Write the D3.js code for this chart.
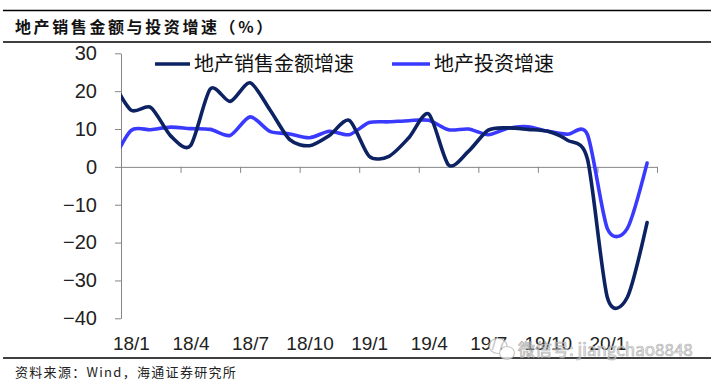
<!DOCTYPE html>
<html>
<head>
<meta charset="utf-8">
<script src="https://cdn.jsdelivr.net/npm/d3@7/dist/d3.min.js"></script>
<style>
    body { margin: 0; background: #fff; }
    svg { display: block; }
</style>
</head>
<body>
<svg id="chart"></svg>
<script>
// values (monthly, Jan & Feb share the Jan-Feb figure)
const months = ["17/12",
    "18/1", "18/2", "18/3", "18/4", "18/5", "18/6", "18/7", "18/8", "18/9", "18/10", "18/11", "18/12",
    "19/1", "19/2", "19/3", "19/4", "19/5", "19/6", "19/7", "19/8", "19/9", "19/10", "19/11", "19/12",
    "20/1", "20/2", "20/3"];
const sales = [23.5,
    15.0, 15.7, 8.2, 5.6, 20.6, 17.3, 22.2, 15.1, 7.2, 5.6, 8.3, 12.3,
    2.8, 2.8, 7.7, 14.0, 0.5, 4.1, 9.7, 10.3, 9.9, 9.4, 7.0, 2.0,
    -34.5, -34.5, -14.7];
const invest = [0.5,
    9.6, 9.8, 10.5, 10.1, 9.9, 8.3, 13.2, 9.4, 8.7, 7.7, 9.4, 8.5,
    11.7, 11.9, 12.2, 12.3, 9.8, 10.0, 8.5, 10.2, 10.6, 9.4, 8.6, 8.5,
    -16.3, -16.3, 1.0];
const tickLabels = ["18/1", "18/4", "18/7", "18/10", "19/1", "19/4", "19/7", "19/10", "20/1"];
const yTicks = [30, 20, 10, 0, -10, -20, -30, -40];
const seriesNames = ["地产销售金额增速", "地产投资增速"];
const seriesColors = ["#0c2262", "#3a3aff"];

const W = 714, H = 382;
const svg = d3.select("#chart").attr("width", W).attr("height", H);

// x counts month slots: 0 = y axis, 27 = right end of the axis, a month sits in the middle of its slot
const x = d3.scaleLinear().domain([0, 27]).range([121, 657]);
const y = d3.scaleLinear().domain([-40, 30]).range([318.3, 53.3]);
const slot = m => months.indexOf(m) - 0.5;

// frame lines and title
[10.5, 42, 358].forEach(yy => {
    svg.append("line")
        .attr("x1", 3).attr("x2", 711)
        .attr("y1", yy).attr("y2", yy)
        .attr("stroke", "#000").attr("stroke-width", 1.3);
});

svg.append("text")
    .attr("x", 15).attr("y", 33)
    .style("font-family", "'Noto Sans CJK SC'")
    .style("font-size", "16px")
    .style("font-weight", "bold")
    .style("letter-spacing", "2.6px")
    .attr("fill", "#111")
    .text("地产销售金额与投资增速（%）");

svg.append("text")
    .attr("x", 15).attr("y", 377)
    .style("font-family", "'Noto Sans CJK SC'")
    .style("font-size", "13px")
    .style("letter-spacing", "1.3px")
    .attr("fill", "#222")
    .text("资料来源：Wind，海通证券研究所");

// y axis
let yAxis = svg.append("g")
    .attr("transform", `translate(${x(0)},0)`)
    .call(d3.axisLeft(y).tickValues(yTicks).tickSize(6).tickSizeOuter(0).tickPadding(18));
yAxis.select(".domain").attr("stroke", "#868686");
yAxis.selectAll(".tick line").attr("stroke", "#868686");
yAxis.selectAll("text")
    .style("font-family", "'Liberation Sans', Arial")
    .style("font-size", "20px")
    .attr("fill", "#222");

// x axis on the zero line, ticks every quarter
let xAxis = svg.append("g")
    .attr("transform", `translate(0,${y(0)})`)
    .call(d3.axisBottom(x).tickValues(d3.range(0, 28, 3)).tickSize(6).tickSizeOuter(0).tickFormat(""));
xAxis.selectAll(".domain, .tick line").attr("stroke", "#868686");

// quarter labels at the bottom, centred on their month
let xLabels = svg.append("g")
    .attr("transform", "translate(0,336)")
    .call(d3.axisBottom(x)
        .tickValues(tickLabels.map(slot))
        .tickSize(0).tickPadding(0)
        .tickFormat((d, i) => tickLabels[i]));
xLabels.select(".domain").remove();
xLabels.selectAll("text")
    .style("font-family", "'Liberation Sans', Arial")
    .style("font-size", "19px")
    .attr("fill", "#222");

// lines, clipped at the y axis
svg.append("clipPath").attr("id", "plotClip")
    .append("rect")
    .attr("x", x(0)).attr("y", 0)
    .attr("width", W - x(0)).attr("height", H);

const line = d3.line()
    .x((d, i) => x(i - 0.5))
    .y(d => y(d))
    .curve(d3.curveCardinal.tension(0.2));

[invest, sales].forEach((s, k) => {
    svg.append("path")
        .datum(s)
        .attr("clip-path", "url(#plotClip)")
        .attr("d", line)
        .attr("fill", "none")
        .attr("stroke", seriesColors[1 - k])
        .attr("stroke-width", 3.6)
        .attr("stroke-linecap", "round")
        .attr("stroke-linejoin", "round");
});

// legend
const legendX = [[155, 190], [392, 430]];
seriesNames.forEach((name, i) => {
    let g = svg.append("g");
    g.append("line")
        .attr("x1", legendX[i][0]).attr("x2", legendX[i][1])
        .attr("y1", 64).attr("y2", 64)
        .attr("stroke", seriesColors[i]).attr("stroke-width", 3.6);
    g.append("text")
        .attr("x", legendX[i][1] + 4).attr("y", 64)
        .attr("dy", "0.36em")
        .style("font-family", "'Noto Sans CJK SC'")
        .style("font-size", "20px")
        .attr("fill", "#111")
        .text(name);
});

// watermark (overlaps the last labels, as in the source picture)
let wm = svg.append("g").attr("opacity", 0.75);
wm.append("ellipse").attr("cx", 498).attr("cy", 346).attr("rx", 9).attr("ry", 7.5)
    .attr("fill", "#fff").attr("stroke", "#b5b5b5").attr("stroke-width", 1.2);
wm.append("ellipse").attr("cx", 507).attr("cy", 353).attr("rx", 7.5).attr("ry", 6.5)
    .attr("fill", "#fff").attr("stroke", "#b5b5b5").attr("stroke-width", 1.2);
wm.append("text")
    .attr("x", 518).attr("y", 356)
    .style("font-family", "'Noto Sans CJK SC'")
    .style("font-size", "17px")
    .attr("fill", "#e6e6e6")
    .attr("stroke", "#9a9a9a")
    .attr("stroke-width", 0.7)
    .text("微信号: jiangchao8848");
</script>
</body>
</html>
